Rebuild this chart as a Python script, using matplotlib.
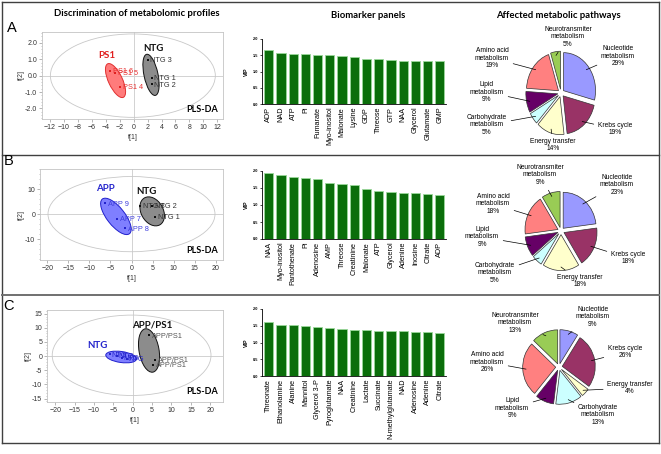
import matplotlib
matplotlib.use('Agg')
import matplotlib.pyplot as plt
from matplotlib.patches import Ellipse
from matplotlib.lines import Line2D
from matplotlib import transforms as mtransforms
from matplotlib.ticker import AutoMinorLocator

plt.rcParams['font.family'] = ['Liberation Sans', 'DejaVu Sans']

W, H = 661, 454

# ---------------- data ----------------
# PLS-DA score plots
a_ps1_x = [-3.37, -2.66, -1.94]
a_ps1_y = [0.30, 0.18, -0.71]
a_ps1_names = ['PS1 6', 'PS1 5', 'PS1 4']
a_ntg_x = [2.0, 2.6, 2.6]
a_ntg_y = [0.96, -0.16, -0.53]
a_ntg_names = ['NTG 3', 'NTG 1', 'NTG 2']

b_app_x = [-6.3, -3.5, -1.5]
b_app_y = [4.3, -2.0, -5.7]
b_app_names = ['APP 9', 'APP 7', 'APP 8']
b_ntg_x = [2.0, 4.8, 5.6]
b_ntg_y = [3.2, 3.2, -1.0]
b_ntg_names = ['NTG 3', 'NTG 2', 'NTG 1']

c_ntg_x = [-5.9, -4.2, -2.8, -1.6]
c_ntg_y = [0.6, 0.0, -0.6, -1.0]
c_ntg_names = ['NTG', 'NTG', 'NTG', 'NTG']
c_tg_x = [4.2, 5.7, 5.2]
c_tg_y = [7.3, -1.4, -3.1]
c_tg_names = ['APP/PS1', 'APP/PS1', 'APP/PS1']

# VIP biomarker panels
a_metab = ['ADP', 'NAD', 'ATP', 'Pi', 'Fumarate', 'Myo-inositol', 'Malonate', 'Lysine',
           'GDP', 'Threose', 'GTP', 'NAA', 'Glycerol', 'Glutamate', 'GMP']
a_vip = [1.65, 1.58, 1.55, 1.54, 1.52, 1.50, 1.47, 1.46, 1.39, 1.37, 1.35, 1.33, 1.33, 1.32, 1.31]
b_metab = ['NAA', 'Myo-inositol', 'Pantothenate', 'Pi', 'Adenosine', 'AMP', 'Threose',
           'Creatinine', 'Malonate', 'ATP', 'Glycerol', 'Adenine', 'Inosine', 'Citrate', 'ADP']
b_vip = [1.93, 1.87, 1.81, 1.79, 1.76, 1.66, 1.62, 1.59, 1.48, 1.41, 1.39, 1.36, 1.34, 1.32, 1.29]
c_metab = ['Threonate', 'Ethanolamine', 'Alanine', 'Mannitol', 'Glycerol 3-P', 'Pyroglutamate',
           'NAA', 'Creatinine', 'Lactate', 'Succinate', 'N-methylglutamate', 'NAD', 'Adenosine',
           'Adenine', 'Citrate']
c_vip = [1.60, 1.53, 1.51, 1.48, 1.47, 1.44, 1.41, 1.38, 1.37, 1.35, 1.33, 1.33, 1.32, 1.31, 1.28]

# affected pathways (%)
path_names = ['Nucleotide\nmetabolism', 'Krebs cycle', 'Energy transfer', 'Carbohydrate\nmetabolism',
              'Lipid\nmetabolism', 'Amino acid\nmetabolism', 'Neurotransmiter\nmetabolism']
a_pct = [29, 19, 14, 5, 9, 19, 5]
b_pct = [23, 18, 18, 5, 9, 18, 9]
c_pct = [9, 26, 4, 13, 9, 26, 13]
path_colors = ['#9999ff', '#993366', '#ffffcc', '#ccffff', '#660066', '#ff8080', '#99cc55']

fig = plt.figure(figsize=(W / 100, H / 100), dpi=100)


def px_axes(l, t, r, b):
    return fig.add_axes([l / W, 1 - b / H, (r - l) / W, (b - t) / H])


def fig_line(x0, x1, y0, y1, lw=1.0, color='#404040'):
    fig.add_artist(Line2D([x0 / W, x1 / W], [1 - y0 / H, 1 - y1 / H], lw=lw, color=color,
                          transform=fig.transFigure))


def px_ellipse(ax, x, y, w, h, ang, fc, ec):
    tr = mtransforms.Affine2D() + mtransforms.ScaledTranslation(x, y, ax.transData)
    ax.add_patch(Ellipse((0, 0), w, h, angle=ang, transform=tr, facecolor=fc,
                         edgecolor=ec, lw=0.7, zorder=2))


def score_plot(ax, xlim, ylim, xticks, yticks, big, yfmt):
    ax.set_xlim(xlim)
    ax.set_ylim(ylim)
    ax.set_xticks(xticks)
    ax.set_yticks(yticks)
    ax.set_yticklabels([yfmt % v for v in yticks])
    ax.yaxis.set_minor_locator(AutoMinorLocator(5))
    for s in ax.spines.values():
        s.set_color('#c4c4c4')
        s.set_linewidth(0.6)
    ax.tick_params(labelsize=5, length=2, width=0.5, color='#999999', pad=1.5, labelcolor='#333333')
    ax.tick_params(which='minor', length=1, width=0.4, color='#999999')
    ax.axhline(0, color='#d2d2d2', lw=0.7, zorder=1)
    ax.axvline(0, color='#d2d2d2', lw=0.7, zorder=1)
    ax.add_patch(Ellipse(big[:2], 2 * big[2], 2 * big[3], facecolor='none',
                         edgecolor='#c8c8c8', lw=0.6, zorder=1))
    ax.set_xlabel('t[1]', fontsize=5, labelpad=2, color='#333333')
    ax.set_ylabel('t[2]', fontsize=5, labelpad=0, color='#333333')
    ax.text(0.97, 0.06, 'PLS-DA', transform=ax.transAxes, ha='right', va='bottom',
            fontsize=6.5, fontweight='bold', family='Lato')


def points(ax, xs, ys, names, color, lcolor, dx=2.0):
    ax.scatter(xs, ys, s=3, marker='s', color=color, zorder=4, linewidths=0)
    for x, y, n in zip(xs, ys, names):
        ax.annotate(n, (x, y), xytext=(dx, -0.5), textcoords='offset points', fontsize=5.3,
                    color=lcolor, va='center', ha='left', zorder=5)


# ---------- A scatter ----------
ax = px_axes(42, 32, 223, 119)
score_plot(ax, (-13.1, 12.8), (-2.65, 2.67), range(-12, 13, 2), [-2, -1, 0, 1, 2],
           (-0.1, 0.0, 11.8, 2.55), '%.1f')
px_ellipse(ax, -2.58, -0.3, 14, 37, 25, '#ff7b7b', '#e03030')
px_ellipse(ax, 2.5, 0.05, 14, 42, 12, '#8c8c8c', '#111111')
points(ax, a_ps1_x, a_ps1_y, a_ps1_names, '#e02020', '#e83030')
points(ax, a_ntg_x, a_ntg_y, a_ntg_names, '#111111', '#333333')
ax.text(-3.8, 1.25, 'PS1', color='#e02020', fontsize=7, fontweight='bold', family='Lato',
        ha='center', va='center')
ax.text(2.8, 1.69, 'NTG', color='#111111', fontsize=7, fontweight='bold', family='Lato',
        ha='center', va='center')

# ---------- B scatter ----------
ax = px_axes(40, 169, 223, 260)
score_plot(ax, (-21.7, 21.7), (-18.3, 18.0), range(-20, 21, 5), [-10, 0, 10],
           (0.0, 0.0, 19.8, 15.0), '%d')
px_ellipse(ax, -3.7, -0.9, 18, 44, 38, '#7f7fff', '#2020cc')
px_ellipse(ax, 4.9, 1.1, 22, 31, 30, '#8c8c8c', '#111111')
points(ax, b_app_x, b_app_y, b_app_names, '#2525cc', '#4040dd')
points(ax, b_ntg_x, b_ntg_y, b_ntg_names, '#111111', '#333333')
ax.text(-6.3, 10.3, 'APP', color='#2525cc', fontsize=7, fontweight='bold', family='Lato',
        ha='center', va='center')
ax.text(3.6, 8.9, 'NTG', color='#111111', fontsize=7, fontweight='bold', family='Lato',
        ha='center', va='center')

# ---------- C scatter ----------
ax = px_axes(47, 310, 223, 402)
score_plot(ax, (-22.15, 23.3), (-16.2, 16.3), range(-20, 21, 5), range(-15, 16, 5),
           (-0.3, 0.3, 20.5, 14.2), '%d')
px_ellipse(ax, -3.0, -0.3, 31, 11, -8, '#7f7fff', '#2020cc')
px_ellipse(ax, 4.2, 2.0, 20, 44, 10, '#8c8c8c', '#111111')
points(ax, c_ntg_x, c_ntg_y, c_ntg_names, '#2525cc', '#2525cc', dx=1.0)
points(ax, c_tg_x, c_tg_y, c_tg_names, '#111111', '#555555')
ax.text(-9.0, 3.9, 'NTG', color='#2525cc', fontsize=7, fontweight='bold', family='Lato',
        ha='center', va='center')
ax.text(5.0, 11.0, 'APP/PS1', color='#111111', fontsize=7, fontweight='bold', family='Lato',
        ha='center', va='center')


# ---------- VIP bar panels ----------
def vip_bars(ax, names, vals):
    ax.bar(range(len(vals)), vals, width=0.75, color='#0b6e0b', edgecolor='#9ad89a', lw=0.6)
    ax.set_xlim(-0.55, len(vals) - 0.5)
    ax.set_ylim(0, 2.0)
    ax.set_yticks([0, 0.5, 1.0, 1.5, 2.0])
    ax.set_yticklabels(['0.0', '0.5', '1.0', '1.5', '2.0'])
    ax.set_xticks(range(len(vals)))
    ax.set_xticklabels(names, rotation=90, fontsize=5.2)
    ax.tick_params(axis='x', length=0, pad=2)
    ax.tick_params(axis='y', labelsize=2.8, length=1.5, width=0.5, pad=1)
    for lab in ax.get_yticklabels():
        lab.set_fontweight('bold')
    ax.spines['top'].set_visible(False)
    ax.spines['right'].set_visible(False)
    ax.spines['left'].set_linewidth(0.6)
    ax.spines['bottom'].set_linewidth(0.6)
    ax.set_ylabel('VIP', fontsize=3.8, fontweight='bold', labelpad=3)


vip_bars(px_axes(262, 39, 446, 104), a_metab, a_vip)
vip_bars(px_axes(262, 171, 446, 239), b_metab, b_vip)
vip_bars(px_axes(262, 309, 446, 376), c_metab, c_vip)

# ---------- pathway pies ----------
a_lab_pos = [(618, 56), (615, 129), (553, 145), (487, 125), (487, 92), (492, 58), (568, 37)]
b_lab_pos = [(617, 185), (628, 258), (580, 281), (495, 273), (482, 237), (493, 204), (540, 175)]
c_lab_pos = [(593, 317), (625, 352), (630, 388), (598, 415), (512, 408), (487, 362), (515, 323)]


def pathway_pie(cx, cy, rx, ry, pct, lab_pos):
    half = 60
    ax = px_axes(cx - half, cy - half, cx + half, cy + half)
    wedges, _ = ax.pie(pct, colors=path_colors, startangle=90, counterclock=False,
                       explode=[0.1] * len(pct),
                       wedgeprops=dict(edgecolor='#333333', linewidth=0.5))
    ax.set_aspect('auto')
    ax.set_xlim(-half / rx, half / rx)
    ax.set_ylim(-half / ry, half / ry)
    ax.axis('off')
    for w, name, p, (tx, ty) in zip(wedges, path_names, pct, lab_pos):
        ang = np.deg2rad((w.theta1 + w.theta2) / 2)
        tip = (w.center[0] + 0.9 * w.r * np.cos(ang), w.center[1] + 0.9 * w.r * np.sin(ang))
        ax.annotate('%s\n%d%%' % (name, p), tip, xytext=(tx / W, 1 - ty / H),
                    textcoords='figure fraction', fontsize=4.8, ha='center', va='center',
                    linespacing=1.15, annotation_clip=False,
                    arrowprops=dict(arrowstyle='-', lw=0.5, color='black', shrinkA=1, shrinkB=0))


import numpy as np
pathway_pie(561, 93, 32, 38, a_pct, a_lab_pos)
pathway_pie(561, 231, 33, 36, b_pct, b_lab_pos)
pathway_pie(559, 367, 33, 34, c_pct, c_lab_pos)

# ---------- headings and panel letters ----------
fig.text(137 / W, 1 - 14 / H, 'Discrimination of metabolomic profiles', fontsize=6.8,
         fontweight='bold', family='Lato', ha='center', va='center')
fig.text(368 / W, 1 - 15 / H, 'Biomarker panels', fontsize=6.8, fontweight='bold',
         family='Lato', ha='center', va='center')
fig.text(558 / W, 1 - 15 / H, 'Affected metabolic pathways', fontsize=6.8, fontweight='bold',
         family='Lato', ha='center', va='center')
for letter, (lx, ly) in zip('ABC', [(11.5, 27.5), (9, 161), (9, 306.5)]):
    fig.text(lx / W, 1 - ly / H, letter, fontsize=10.5, ha='center', va='center')

# ---------- frame ----------
fig_line(2, 659, 2, 2)
fig_line(2, 2, 2, 443)
fig_line(659, 659, 2, 443)
fig_line(2, 659, 155, 155)
fig_line(2, 659, 295, 295, lw=1.4, color='#707070')
fig_line(2, 659, 443, 443)

fig.savefig('out.png', dpi=100)
